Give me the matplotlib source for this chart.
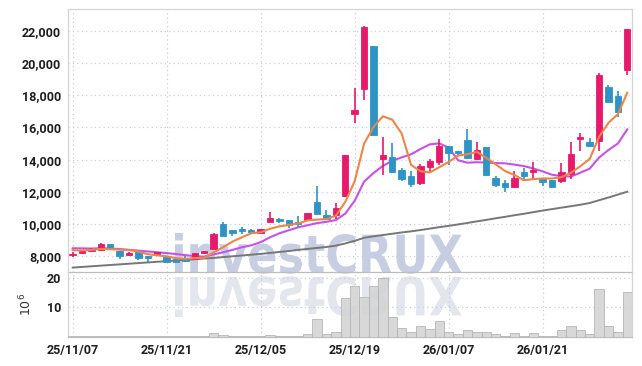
import matplotlib
matplotlib.use("Agg")
import matplotlib.pyplot as plt
import matplotlib.transforms as mtransforms
from matplotlib.textpath import TextPath
from matplotlib.patches import PathPatch
from matplotlib.font_manager import FontProperties
import numpy as np

# trading-day candles, 25/11/07 .. 26/02/03
opens = [8050, 8220, 8350, 8400, 8750, 8320, 8050, 8280, 8000, 8070,
         7960, 7820, 7800, 7810, 8190, 8470, 10000, 9620, 9620, 9620,
         9440, 10130, 10320, 10250, 10150, 10250, 11370, 10540, 10580, 11760,
         16850, 18400, 21050, 14020, 14180, 13360, 12980, 12530, 13560, 13870,
         14850, 14480, 15220, 14040, 14800, 12840, 12570, 12320, 13250, 13250,
         12800, 12740, 12690, 13110, 15300, 15090, 15170, 18520, 17950, 19560]
closes = [8150, 8330, 8400, 8750, 8580, 8000, 8220, 7920, 7920, 8260,
          7660, 7650, 7700, 8190, 8280, 9370, 9280, 9430, 9560, 9510,
          9680, 10390, 10170, 9950, 9990, 10660, 10620, 10320, 11000, 14290,
          17080, 22250, 15550, 14290, 13250, 12780, 12470, 13620, 13920, 14850,
          14430, 14420, 14080, 14600, 13040, 12430, 12320, 12840, 12990, 13360,
          12630, 12320, 13250, 14350, 15420, 14850, 19250, 17600, 16980, 22090]
highs = [8250, 8400, 8500, 8850, 8770, 8330, 8250, 8300, 8010, 8290,
         7980, 7840, 8000, 8200, 8300, 9470, 10110, 9650, 9800, 9680,
         9700, 10730, 10380, 10270, 10500, 10700, 12360, 10870, 11290, 14300,
         18470, 22280, 21050, 15390, 15010, 13450, 13320, 13750, 14050, 15260,
         14860, 14550, 15880, 15110, 14800, 12980, 12740, 13320, 13480, 13870,
         12830, 12760, 13770, 15110, 15630, 15320, 19360, 18630, 18280, 22100]
lows = [7950, 8200, 8280, 8380, 8480, 7850, 8000, 7800, 7640, 8050,
        7640, 7620, 7650, 7800, 8150, 8450, 9250, 9290, 9360, 9430,
        9420, 10100, 10050, 9740, 9800, 10230, 10600, 10300, 10290, 11700,
        16260, 17700, 15500, 13030, 13200, 12700, 12320, 12400, 13150, 13670,
        13670, 14300, 14050, 14000, 12980, 12280, 12010, 12260, 12740, 12740,
        12360, 12250, 12530, 12780, 14550, 14820, 14560, 17500, 16620, 19250]

# moving averages as drawn
ma5 = [8380, 8360, 8400, 8460, 8440, 8410, 8390, 8290, 8130, 8060,
       8000, 7880, 7840, 7890, 7900, 8240, 8560, 8910, 9180, 9430,
       9490, 9710, 9860, 9940, 10040, 10230, 10280, 10310, 10520, 11380,
       12660, 14990, 16030, 16690, 16480, 15620, 13670, 13280, 13210, 13530,
       13860, 14250, 14340, 14480, 14110, 13710, 13290, 13050, 12720, 12790,
       12830, 12830, 12910, 13180, 13590, 14040, 15420, 16290, 16820, 18150]
ma10 = [8500, 8490, 8480, 8500, 8490, 8450, 8400, 8350, 8300, 8250,
        8200, 8140, 8070, 8010, 7980, 8120, 8250, 8400, 8560, 8680,
        8880, 9180, 9430, 9620, 9800, 9930, 10060, 10140, 10250, 10650,
        11450, 12630, 13170, 13610, 13930, 14140, 14330, 14660, 14950, 15010,
        14740, 13960, 13810, 13840, 13820, 13790, 13770, 13690, 13600, 13450,
        13270, 13060, 12980, 12950, 13190, 13440, 14130, 14600, 15000, 15880]
ma_long = [7300, 7340, 7380, 7420, 7460, 7500, 7540, 7580, 7620, 7660,
           7700, 7740, 7780, 7820, 7860, 7900, 7950, 8000, 8050, 8100,
           8150, 8210, 8270, 8330, 8400, 8460, 8520, 8580, 8660, 8800,
           8960, 9150, 9240, 9320, 9400, 9480, 9550, 9630, 9720, 9810,
           9890, 9980, 10070, 10170, 10260, 10360, 10450, 10550, 10640, 10740,
           10840, 10930, 11020, 11110, 11200, 11310, 11480, 11650, 11830, 12010]

# volume in millions
volume = [0.2, 0.1, 0.2, 0.2, 0.1, 0.2, 0.1, 0.2, 0.1, 0.1,
          0.1, 0.1, 0.1, 0.1, 0.1, 1.1, 0.6, 0.2, 0.2, 0.2,
          0.1, 0.7, 0.2, 0.2, 0.1, 0.8, 5.9, 0.8, 1.7, 13.3,
          17.4, 13.7, 17.4, 19.9, 6.6, 3.1, 1.7, 3.8, 2.8, 5.2,
          1.7, 1.0, 2.4, 1.7, 1.7, 1.0, 0.4, 1.4, 0.4, 1.4,
          0.4, 0.4, 2.4, 3.8, 2.4, 1.0, 16.3, 3.8, 1.7, 15.4]

price_ticks = [8000, 10000, 12000, 14000, 16000, 18000, 20000, 22000]
vol_ticks = [10, 20]
date_pos = [0, 10, 20, 30, 40, 50]
date_labels = ['25/11/07', '25/11/21', '25/12/05', '25/12/19', '26/01/07', '26/01/21']

UP = '#e6196a'
DOWN = '#2e94c6'
GRID = '#c9cde0'
tick_font = dict(family='Roboto', weight='bold', size=9, color='#1e1e1e')

fig = plt.figure(figsize=(6.42, 3.66), dpi=100)
ax1 = fig.add_axes([0.1059, 0.2568, 0.8785, 0.7186])
ax2 = fig.add_axes([0.1059, 0.0792, 0.8785, 0.1776], sharex=ax1)
for ax in (ax1, ax2):
    ax.set_facecolor('none')

x = np.arange(len(closes))
o = np.array(opens)
c = np.array(closes)
colors = [UP if cc >= oo else DOWN for oo, cc in zip(opens, closes)]
body_low = np.minimum(o, c)
body_h = np.maximum(np.abs(c - o), 110)

ax1.vlines(x, lows, highs, colors=colors, linewidth=1.2, zorder=3)
ax1.bar(x, body_h, bottom=body_low, width=0.68, color=colors,
        edgecolor=colors, linewidth=0.6, zorder=4)

ax1.plot(x, ma_long, color='#777777', linewidth=1.4, zorder=2)
ax1.plot(x, ma10, color='#c752e8', linewidth=1.5, zorder=2)
ax1.plot(x, ma5, color='#ee8548', linewidth=1.5, zorder=5)

ax1.set_ylim(7025, 23350)
ax1.set_xlim(-0.5, 59.5)
ax1.set_yticks(price_ticks)
ax1.set_yticklabels([f"{v:,}" for v in price_ticks], **tick_font)
ax1.tick_params(axis='x', labelbottom=False, length=0)
ax1.tick_params(axis='y', length=0, pad=5)

ax2.bar(x, volume, width=1.0, color='#d2d2d2', edgecolor='#b5b5b5',
        linewidth=0.7, alpha=0.85, zorder=3)
ax2.set_ylim(-0.1, 22.1)
ax2.set_yticks(vol_ticks)
ax2.set_yticklabels([str(v) for v in vol_ticks], **tick_font)
ax2.set_xticks(date_pos)
ax2.set_xticklabels(date_labels, **tick_font)
ax2.tick_params(length=0, pad=5)
ax2.set_ylabel(r'$10^6$', fontsize=9, color='#333333', labelpad=9)

for ax in (ax1, ax2):
    ax.grid(True, linestyle=(0, (1, 2.5)), color=GRID, linewidth=0.9, zorder=0)
    ax.set_axisbelow(True)
    for s in ax.spines.values():
        s.set_color('#d4d4d4')
        s.set_linewidth(0.9)
ax1.spines['bottom'].set_color('#bcbcbc')
ax2.spines['top'].set_visible(False)
ax2.spines['bottom'].set_color('#bcbcbc')

# watermark with its reflection, placed in figure pixels
W, H = 642, 366
tp = TextPath((0, 0), "investCRUX", size=1,
              prop=FontProperties(family='DejaVu Sans', weight='bold'))
ext = tp.get_extents()
sx = 287 / ext.width
sy = 40 / ext.y1
x0 = 175 - ext.x0 * sx
base = H - 273
up_tr = mtransforms.Affine2D().scale(sx / W, sy / H).translate(x0 / W, base / H) + fig.transFigure
dn_tr = mtransforms.Affine2D().scale(sx / W, -sy / H).translate(x0 / W, (base - 4) / H) + fig.transFigure
fig.patches.append(PathPatch(tp, transform=up_tr, facecolor='#c7cee2',
                             edgecolor='none', zorder=-1))
fig.patches.append(PathPatch(tp, transform=dn_tr, facecolor='#e4e6ee',
                             edgecolor='none', zorder=-1))

fig.savefig('out.png', dpi=100)
